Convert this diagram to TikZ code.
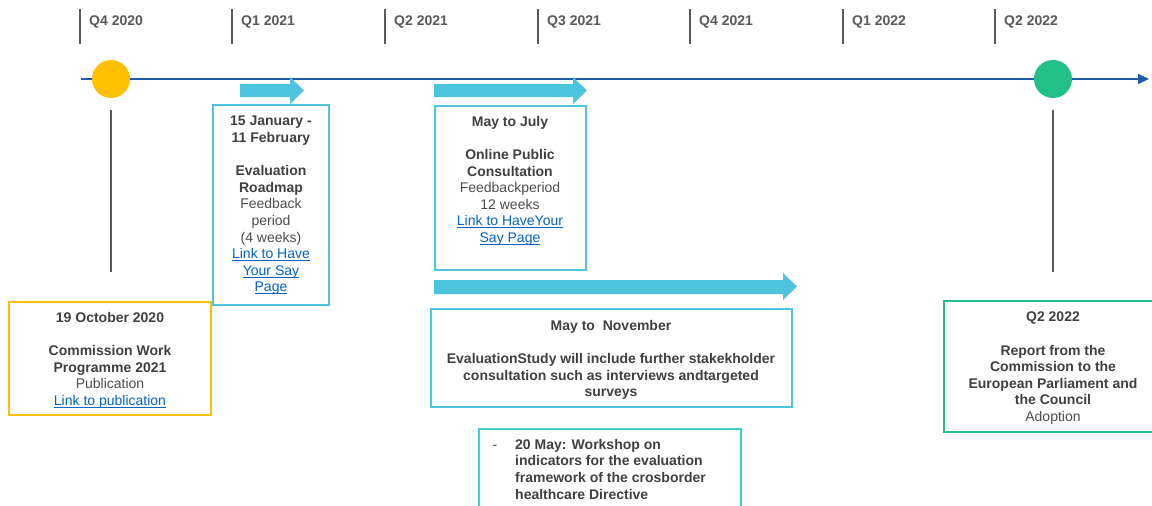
\documentclass[tikz,border=0pt]{standalone}
\usepackage{fontspec}
\setmainfont{Liberation Sans}
\usetikzlibrary{arrows.meta}
\definecolor{txtdark}{HTML}{404040}
\definecolor{txtreg}{HTML}{4D4D4D}
\definecolor{tickgray}{HTML}{595959}
\definecolor{lineblue}{HTML}{1F5AA6}
\definecolor{cyanbox}{HTML}{4CC4DE}
\definecolor{tealbox}{HTML}{3ECFD6}
\definecolor{linkblue}{HTML}{0563C1}
\definecolor{yel}{HTML}{FFC000}
\definecolor{grn}{HTML}{21C088}
\newcommand{\lnk}[1]{\textcolor{linkblue}{\setbox0\hbox{#1}\rlap{\rule[-2.2pt]{\wd0}{0.9pt}}\box0}}
\newcommand{\rg}[1]{{\mdseries\color{txtreg}#1}}
\tikzset{
  qlabel/.style={anchor=west, inner sep=0pt, text=tickgray, font=\fontsize{14}{16.6}\selectfont\bfseries},
  qtick/.style={draw=tickgray, line width=2pt},
  boxtext/.style={inner sep=0pt, align=center, text=txtdark, font=\fontsize{14}{16.6}\selectfont\bfseries},
  framebox/.style={line width=2pt},
  fatarrow/.style={fill=cyanbox, draw=none},
  stem/.style={draw=tickgray, line width=2pt},
}
\begin{document}
\begin{tikzpicture}[x=1pt,y=-1pt]
\useasboundingbox (0,0) rectangle (1152,506);
\clip (0,0) rectangle (1152,506);
\fill[white] (0,0) rectangle (1152,506);

% quarter ticks and labels
\foreach \n/\x/\t in {a/80/Q4 2020, b/232/Q1 2021, c/385/Q2 2021, d/538/Q3 2021, e/690/Q4 2021, f/843/Q1 2022, g/995/Q2 2022}{
  \coordinate (tt\n) at (\x,9);
  \coordinate (tb\n) at (\x,44);
  \draw[qtick] (tt\n) -- (tb\n);
  \node[qlabel] (ql\n) at (\x+9,21.5) {\t};
}

% timeline
\coordinate (tlstart) at (81,79);
\coordinate (tlend) at (1149,79);
\draw[lineblue, line width=1.8pt, -{Triangle[length=11pt,width=10pt]}] (tlstart) -- (tlend);

% milestones
\node[circle, fill=yel, minimum size=38pt, inner sep=0pt] (cy) at (111,79) {};
\node[circle, fill=grn, minimum size=38pt, inner sep=0pt] (cg) at (1053,79) {};

\coordinate (sy1) at (111,110); \coordinate (sy2) at (111,272);
\coordinate (sg1) at (1053,110); \coordinate (sg2) at (1053,272);
\draw[stem] (sy1) -- (sy2);
\draw[stem] (sg1) -- (sg2);

% fat arrows
\fill[fatarrow] (240,84) -- (290,84) -- (290,77) -- (304,90.5) -- (290,104) -- (290,97) -- (240,97) -- cycle;
\fill[fatarrow] (434,84) -- (573,84) -- (573,77) -- (587,90.5) -- (573,104) -- (573,97) -- (434,97) -- cycle;
\fill[fatarrow] (434,280) -- (783,280) -- (783,273) -- (797,286.5) -- (783,300) -- (783,294) -- (434,294) -- cycle;

% yellow box
\draw[framebox, draw=yel] (9,302) rectangle (211,415);
\node[boxtext, anchor=north] (ty) at (110,312) {19 October 2020\\[16.6pt]Commission Work\\Programme 2021\\\rg{Publication}\\\rg{\lnk{Link to publication}}};

% box 1
\draw[framebox, draw=cyanbox] (213,105) rectangle (329,305);
\node[boxtext, anchor=north] (t1) at (271,116) {15 January -\\11 February\\[16.6pt]Evaluation\\Roadmap\\\rg{Feedback}\\\rg{period}\\\rg{(4 weeks)}\\\rg{\lnk{Link to Have}}\\\rg{\lnk{Your Say}}\\\rg{\lnk{Page}}};

% box 2
\draw[framebox, draw=cyanbox] (435,106) rectangle (586,270);
\node[boxtext, anchor=north] (t2) at (510,116) {May to July\\[16.6pt]Online Public\\Consultation\\\rg{Feedbackperiod}\\\rg{12 weeks}\\\rg{\lnk{Link to HaveYour}}\\\rg{\lnk{Say Page}}};

% box 3
\draw[framebox, draw=cyanbox] (431,309) rectangle (792,407);
\node[boxtext, anchor=north] (t3) at (611,320) {May to\ \ November\\[16.6pt]EvaluationStudy will include further stakekholder\\consultation such as interviews andtargeted\\surveys};

% box 4
\draw[framebox, draw=tealbox] (479,429) rectangle (741,520);
\node[boxtext, anchor=north west, align=left] (t4) at (515,439) {20 May: Workshop on\\indicators for the evaluation\\framework of the crosborder\\healthcare Directive};
\node[boxtext, anchor=base, font=\fontsize{14}{16.6}\selectfont] (dash) at (495,449) {-};

% green box
\draw[framebox, draw=grn] (944,301) rectangle (1162,432);
\node[boxtext, anchor=north] (tg) at (1053,312) {Q2 2022\\[16.6pt]Report from the\\Commission to the\\European Parliament and\\the Council\\\rg{Adoption}};
\end{tikzpicture}
\end{document}
